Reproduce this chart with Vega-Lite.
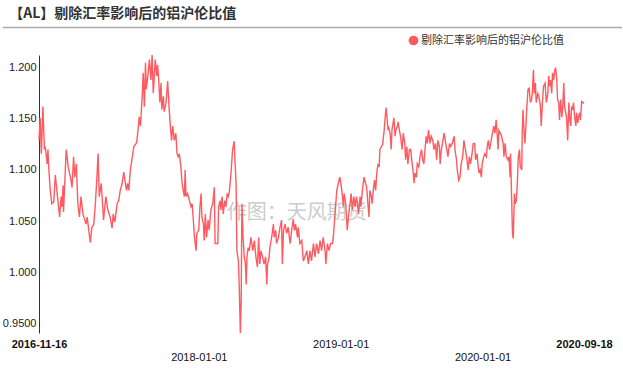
{
  "$schema": "https://vega.github.io/schema/vega-lite/v6.json",
  "background": "white",
  "padding": {"left": 2, "top": 6, "right": 2, "bottom": 0},
  "columns": 1,
  "align": "none",
  "spacing": 23,
  "config": {
    "view": {"stroke": null},
    "font": "Liberation Sans, Noto Sans CJK SC"
  },
  "concat": [
    {
      "title": {"text": "【AL】剔除汇率影响后的铝沪伦比值", "anchor": "start", "fontSize": 14, "fontWeight": "bold", "color": "#333333", "font": "Noto Sans CJK SC", "offset": 6, "dx": 7},
      "width": 545,
      "height": 1,
      "data": {"values": [{"level": 0, "from": -0.0661, "to": 1.0697}]},
      "mark": {"type": "rule", "color": "#aaaaaa", "strokeWidth": 1.5, "clip": false},
      "encoding": {
        "x": {"field": "from", "type": "quantitative", "scale": {"domain": [0, 1], "nice": false, "zero": false}, "axis": null},
        "x2": {"field": "to"},
        "y": {"field": "level", "type": "quantitative", "axis": null}
      }
    },
    {
      "width": 545,
      "height": 278,
      "layer": [
        {
          "data": {"values": [{"label": "作图：天风期货"}]},
          "mark": {"type": "text", "fontSize": 20, "color": "#cccccc", "font": "Noto Sans CJK SC"},
          "encoding": {
            "x": {"datum": {"year": 2018, "month": 9, "date": 10, "utc": true}, "type": "temporal"},
            "y": {"datum": 1.058, "type": "quantitative"},
            "text": {"field": "label"}
          }
        },
        {
          "data": {"values": [
{"date":"2016-11-16","ratio":1.129},{"date":"2016-11-19","ratio":1.151},{"date":"2016-11-22","ratio":1.116},{"date":"2016-11-26","ratio":1.162},{"date":"2016-11-30","ratio":1.120},{"date":"2016-12-02","ratio":1.123},{"date":"2016-12-07","ratio":1.106},{"date":"2016-12-09","ratio":1.120},{"date":"2016-12-11","ratio":1.103},{"date":"2016-12-15","ratio":1.080},{"date":"2016-12-19","ratio":1.067},{"date":"2016-12-24","ratio":1.069},{"date":"2016-12-28","ratio":1.095},
{"date":"2017-01-01","ratio":1.080},{"date":"2017-01-08","ratio":1.054},{"date":"2017-01-12","ratio":1.074},{"date":"2017-01-14","ratio":1.064},{"date":"2017-01-17","ratio":1.085},{"date":"2017-01-18","ratio":1.059},{"date":"2017-01-25","ratio":1.120},{"date":"2017-01-30","ratio":1.103},{"date":"2017-02-05","ratio":1.093},{"date":"2017-02-09","ratio":1.083},{"date":"2017-02-13","ratio":1.113},{"date":"2017-02-16","ratio":1.093},{"date":"2017-02-20","ratio":1.106},{"date":"2017-02-24","ratio":1.067},{"date":"2017-02-28","ratio":1.054},{"date":"2017-03-04","ratio":1.074},{"date":"2017-03-09","ratio":1.057},{"date":"2017-03-17","ratio":1.047},{"date":"2017-03-20","ratio":1.054},{"date":"2017-03-24","ratio":1.041},{"date":"2017-03-28","ratio":1.029},{"date":"2017-04-01","ratio":1.044},{"date":"2017-04-06","ratio":1.047},{"date":"2017-04-10","ratio":1.067},{"date":"2017-04-14","ratio":1.093},{"date":"2017-04-17","ratio":1.116},{"date":"2017-04-20","ratio":1.074},{"date":"2017-04-25","ratio":1.087},{"date":"2017-04-29","ratio":1.064},{"date":"2017-05-01","ratio":1.051},{"date":"2017-05-07","ratio":1.074},{"date":"2017-05-12","ratio":1.061},{"date":"2017-05-18","ratio":1.054},{"date":"2017-05-23","ratio":1.043},{"date":"2017-05-26","ratio":1.057},{"date":"2017-05-30","ratio":1.049},{"date":"2017-06-05","ratio":1.067},{"date":"2017-06-09","ratio":1.070},{"date":"2017-06-13","ratio":1.080},{"date":"2017-06-18","ratio":1.087},{"date":"2017-06-22","ratio":1.098},{"date":"2017-06-29","ratio":1.080},{"date":"2017-07-02","ratio":1.087},{"date":"2017-07-05","ratio":1.080},{"date":"2017-07-09","ratio":1.100},{"date":"2017-07-13","ratio":1.110},{"date":"2017-07-18","ratio":1.123},{"date":"2017-07-24","ratio":1.126},{"date":"2017-07-26","ratio":1.129},{"date":"2017-08-01","ratio":1.152},{"date":"2017-08-04","ratio":1.143},{"date":"2017-08-08","ratio":1.169},{"date":"2017-08-11","ratio":1.195},{"date":"2017-08-14","ratio":1.162},{"date":"2017-08-17","ratio":1.205},{"date":"2017-08-19","ratio":1.179},{"date":"2017-08-23","ratio":1.192},{"date":"2017-08-27","ratio":1.208},{"date":"2017-08-31","ratio":1.188},{"date":"2017-09-03","ratio":1.2125},{"date":"2017-09-06","ratio":1.175},{"date":"2017-09-09","ratio":1.195},{"date":"2017-09-11","ratio":1.208},{"date":"2017-09-15","ratio":1.192},{"date":"2017-09-17","ratio":1.203},{"date":"2017-09-20","ratio":1.188},{"date":"2017-09-23","ratio":1.166},{"date":"2017-09-26","ratio":1.185},{"date":"2017-09-28","ratio":1.159},{"date":"2017-10-02","ratio":1.172},{"date":"2017-10-04","ratio":1.157},{"date":"2017-10-09","ratio":1.166},{"date":"2017-10-13","ratio":1.187},{"date":"2017-10-17","ratio":1.159},{"date":"2017-10-20","ratio":1.143},{"date":"2017-10-23","ratio":1.129},{"date":"2017-10-26","ratio":1.143},{"date":"2017-10-30","ratio":1.129},{"date":"2017-11-03","ratio":1.136},{"date":"2017-11-06","ratio":1.116},{"date":"2017-11-09","ratio":1.113},{"date":"2017-11-12","ratio":1.116},{"date":"2017-11-16","ratio":1.103},{"date":"2017-11-19","ratio":1.087},{"date":"2017-11-22","ratio":1.080},{"date":"2017-11-25","ratio":1.074},{"date":"2017-11-27","ratio":1.100},{"date":"2017-11-29","ratio":1.074},{"date":"2017-12-03","ratio":1.077},{"date":"2017-12-08","ratio":1.070},{"date":"2017-12-12","ratio":1.064},{"date":"2017-12-15","ratio":1.067},{"date":"2017-12-18","ratio":1.051},{"date":"2017-12-21","ratio":1.034},{"date":"2017-12-25","ratio":1.021},{"date":"2017-12-27","ratio":1.038},
{"date":"2018-01-01","ratio":1.041},{"date":"2018-01-04","ratio":1.064},{"date":"2018-01-07","ratio":1.077},{"date":"2018-01-09","ratio":1.054},{"date":"2018-01-13","ratio":1.047},{"date":"2018-01-15","ratio":1.031},{"date":"2018-01-18","ratio":1.057},{"date":"2018-01-21","ratio":1.034},{"date":"2018-01-25","ratio":1.051},{"date":"2018-01-28","ratio":1.041},{"date":"2018-02-01","ratio":1.061},{"date":"2018-02-06","ratio":1.067},{"date":"2018-02-10","ratio":1.083},{"date":"2018-02-12","ratio":1.028},{"date":"2018-02-19","ratio":1.028},{"date":"2018-02-21","ratio":1.064},{"date":"2018-02-25","ratio":1.070},{"date":"2018-02-27","ratio":1.061},{"date":"2018-03-02","ratio":1.074},{"date":"2018-03-05","ratio":1.057},{"date":"2018-03-09","ratio":1.070},{"date":"2018-03-12","ratio":1.064},{"date":"2018-03-15","ratio":1.077},{"date":"2018-03-18","ratio":1.074},{"date":"2018-03-21","ratio":1.080},{"date":"2018-03-25","ratio":1.097},{"date":"2018-03-29","ratio":1.120},{"date":"2018-04-02","ratio":1.128},{"date":"2018-04-05","ratio":1.103},{"date":"2018-04-07","ratio":1.087},{"date":"2018-04-09","ratio":1.021},{"date":"2018-04-13","ratio":1.011},{"date":"2018-04-15","ratio":0.988},{"date":"2018-04-18","ratio":0.9405},{"date":"2018-04-20","ratio":0.969},{"date":"2018-04-22","ratio":1.067},{"date":"2018-04-25","ratio":1.034},{"date":"2018-04-28","ratio":1.015},{"date":"2018-05-01","ratio":1.008},{"date":"2018-05-03","ratio":0.988},{"date":"2018-05-05","ratio":1.015},{"date":"2018-05-08","ratio":1.024},{"date":"2018-05-11","ratio":1.021},{"date":"2018-05-15","ratio":1.034},{"date":"2018-05-20","ratio":1.021},{"date":"2018-05-24","ratio":1.031},{"date":"2018-05-28","ratio":1.015},{"date":"2018-06-01","ratio":1.005},{"date":"2018-06-04","ratio":1.034},{"date":"2018-06-07","ratio":1.008},{"date":"2018-06-10","ratio":1.021},{"date":"2018-06-14","ratio":1.015},{"date":"2018-06-18","ratio":1.008},{"date":"2018-06-22","ratio":1.015},{"date":"2018-06-25","ratio":0.988},{"date":"2018-06-27","ratio":1.008},{"date":"2018-07-01","ratio":1.015},{"date":"2018-07-03","ratio":1.024},{"date":"2018-07-06","ratio":1.031},{"date":"2018-07-09","ratio":1.038},{"date":"2018-07-12","ratio":1.047},{"date":"2018-07-14","ratio":1.034},{"date":"2018-07-18","ratio":1.041},{"date":"2018-07-20","ratio":1.028},{"date":"2018-07-25","ratio":1.034},{"date":"2018-07-29","ratio":1.044},{"date":"2018-08-02","ratio":1.051},{"date":"2018-08-04","ratio":1.008},{"date":"2018-08-07","ratio":1.041},{"date":"2018-08-11","ratio":1.047},{"date":"2018-08-15","ratio":1.038},{"date":"2018-08-19","ratio":1.044},{"date":"2018-08-24","ratio":1.028},{"date":"2018-08-28","ratio":1.041},{"date":"2018-09-01","ratio":1.052},{"date":"2018-09-04","ratio":1.041},{"date":"2018-09-07","ratio":1.047},{"date":"2018-09-12","ratio":1.034},{"date":"2018-09-14","ratio":1.044},{"date":"2018-09-18","ratio":1.028},{"date":"2018-09-23","ratio":1.031},{"date":"2018-09-27","ratio":1.011},{"date":"2018-10-01","ratio":1.015},{"date":"2018-10-06","ratio":1.021},{"date":"2018-10-10","ratio":1.008},{"date":"2018-10-14","ratio":1.021},{"date":"2018-10-18","ratio":1.011},{"date":"2018-10-23","ratio":1.028},{"date":"2018-10-27","ratio":1.015},{"date":"2018-10-31","ratio":1.028},{"date":"2018-11-05","ratio":1.018},{"date":"2018-11-09","ratio":1.031},{"date":"2018-11-13","ratio":1.021},{"date":"2018-11-17","ratio":1.034},{"date":"2018-11-22","ratio":1.021},{"date":"2018-11-24","ratio":1.008},{"date":"2018-11-28","ratio":1.028},{"date":"2018-12-02","ratio":1.021},{"date":"2018-12-06","ratio":1.028},{"date":"2018-12-11","ratio":1.028},{"date":"2018-12-13","ratio":1.034},{"date":"2018-12-17","ratio":1.054},{"date":"2018-12-22","ratio":1.080},{"date":"2018-12-26","ratio":1.087},{"date":"2018-12-30","ratio":1.093},
{"date":"2019-01-04","ratio":1.080},{"date":"2019-01-08","ratio":1.064},{"date":"2019-01-10","ratio":1.077},{"date":"2019-01-14","ratio":1.067},{"date":"2019-01-18","ratio":1.041},{"date":"2019-01-21","ratio":1.054},{"date":"2019-01-25","ratio":1.067},{"date":"2019-01-28","ratio":1.077},{"date":"2019-01-31","ratio":1.061},{"date":"2019-02-04","ratio":1.074},{"date":"2019-02-07","ratio":1.064},{"date":"2019-02-11","ratio":1.074},{"date":"2019-02-16","ratio":1.057},{"date":"2019-02-20","ratio":1.074},{"date":"2019-02-22","ratio":1.064},{"date":"2019-02-26","ratio":1.080},{"date":"2019-03-02","ratio":1.093},{"date":"2019-03-06","ratio":1.087},{"date":"2019-03-09","ratio":1.083},{"date":"2019-03-12","ratio":1.067},{"date":"2019-03-15","ratio":1.054},{"date":"2019-03-17","ratio":1.080},{"date":"2019-03-21","ratio":1.074},{"date":"2019-03-23","ratio":1.067},{"date":"2019-03-26","ratio":1.080},{"date":"2019-03-29","ratio":1.090},{"date":"2019-04-01","ratio":1.080},{"date":"2019-04-04","ratio":1.097},{"date":"2019-04-07","ratio":1.106},{"date":"2019-04-10","ratio":1.103},{"date":"2019-04-12","ratio":1.120},{"date":"2019-04-16","ratio":1.123},{"date":"2019-04-19","ratio":1.125},{"date":"2019-04-23","ratio":1.139},{"date":"2019-04-25","ratio":1.149},{"date":"2019-04-28","ratio":1.161},{"date":"2019-04-30","ratio":1.152},{"date":"2019-05-03","ratio":1.139},{"date":"2019-05-05","ratio":1.141},{"date":"2019-05-08","ratio":1.136},{"date":"2019-05-11","ratio":1.120},{"date":"2019-05-13","ratio":1.139},{"date":"2019-05-16","ratio":1.146},{"date":"2019-05-18","ratio":1.151},{"date":"2019-05-21","ratio":1.133},{"date":"2019-05-23","ratio":1.139},{"date":"2019-05-27","ratio":1.143},{"date":"2019-05-29","ratio":1.147},{"date":"2019-06-01","ratio":1.139},{"date":"2019-06-04","ratio":1.133},{"date":"2019-06-08","ratio":1.120},{"date":"2019-06-11","ratio":1.136},{"date":"2019-06-15","ratio":1.126},{"date":"2019-06-17","ratio":1.110},{"date":"2019-06-20","ratio":1.123},{"date":"2019-06-23","ratio":1.106},{"date":"2019-06-27","ratio":1.120},{"date":"2019-06-30","ratio":1.120},{"date":"2019-07-04","ratio":1.106},{"date":"2019-07-06","ratio":1.100},{"date":"2019-07-09","ratio":1.087},{"date":"2019-07-11","ratio":1.097},{"date":"2019-07-15","ratio":1.093},{"date":"2019-07-17","ratio":1.106},{"date":"2019-07-21","ratio":1.103},{"date":"2019-07-24","ratio":1.113},{"date":"2019-07-28","ratio":1.120},{"date":"2019-07-31","ratio":1.110},{"date":"2019-08-03","ratio":1.106},{"date":"2019-08-06","ratio":1.120},{"date":"2019-08-09","ratio":1.133},{"date":"2019-08-12","ratio":1.126},{"date":"2019-08-15","ratio":1.139},{"date":"2019-08-19","ratio":1.126},{"date":"2019-08-22","ratio":1.133},{"date":"2019-08-26","ratio":1.129},{"date":"2019-08-29","ratio":1.120},{"date":"2019-09-02","ratio":1.126},{"date":"2019-09-05","ratio":1.110},{"date":"2019-09-08","ratio":1.129},{"date":"2019-09-12","ratio":1.123},{"date":"2019-09-14","ratio":1.106},{"date":"2019-09-17","ratio":1.120},{"date":"2019-09-20","ratio":1.126},{"date":"2019-09-24","ratio":1.136},{"date":"2019-09-27","ratio":1.129},{"date":"2019-10-01","ratio":1.120},{"date":"2019-10-04","ratio":1.113},{"date":"2019-10-08","ratio":1.126},{"date":"2019-10-11","ratio":1.123},{"date":"2019-10-15","ratio":1.126},{"date":"2019-10-20","ratio":1.133},{"date":"2019-10-22","ratio":1.120},{"date":"2019-10-26","ratio":1.110},{"date":"2019-10-28","ratio":1.100},{"date":"2019-11-01","ratio":1.090},{"date":"2019-11-04","ratio":1.093},{"date":"2019-11-07","ratio":1.106},{"date":"2019-11-11","ratio":1.113},{"date":"2019-11-14","ratio":1.129},{"date":"2019-11-18","ratio":1.120},{"date":"2019-11-21","ratio":1.113},{"date":"2019-11-25","ratio":1.100},{"date":"2019-11-28","ratio":1.113},{"date":"2019-12-01","ratio":1.106},{"date":"2019-12-05","ratio":1.116},{"date":"2019-12-08","ratio":1.126},{"date":"2019-12-12","ratio":1.126},{"date":"2019-12-14","ratio":1.110},{"date":"2019-12-18","ratio":1.116},{"date":"2019-12-20","ratio":1.106},{"date":"2019-12-23","ratio":1.097},{"date":"2019-12-26","ratio":1.100},{"date":"2019-12-29","ratio":1.093},{"date":"2019-12-31","ratio":1.106},
{"date":"2020-01-04","ratio":1.113},{"date":"2020-01-07","ratio":1.116},{"date":"2020-01-11","ratio":1.113},{"date":"2020-01-13","ratio":1.123},{"date":"2020-01-16","ratio":1.129},{"date":"2020-01-19","ratio":1.120},{"date":"2020-01-22","ratio":1.126},{"date":"2020-01-25","ratio":1.133},{"date":"2020-01-28","ratio":1.139},{"date":"2020-01-30","ratio":1.143},{"date":"2020-02-02","ratio":1.136},{"date":"2020-02-05","ratio":1.149},{"date":"2020-02-08","ratio":1.133},{"date":"2020-02-10","ratio":1.120},{"date":"2020-02-12","ratio":1.139},{"date":"2020-02-16","ratio":1.136},{"date":"2020-02-19","ratio":1.133},{"date":"2020-02-23","ratio":1.126},{"date":"2020-02-25","ratio":1.113},{"date":"2020-02-28","ratio":1.126},{"date":"2020-03-02","ratio":1.113},{"date":"2020-03-06","ratio":1.110},{"date":"2020-03-09","ratio":1.113},{"date":"2020-03-12","ratio":1.093},{"date":"2020-03-13","ratio":1.116},{"date":"2020-03-16","ratio":1.070},{"date":"2020-03-18","ratio":1.038},{"date":"2020-03-20","ratio":1.033},{"date":"2020-03-23","ratio":1.077},{"date":"2020-03-25","ratio":1.067},{"date":"2020-03-28","ratio":1.070},{"date":"2020-03-30","ratio":1.083},{"date":"2020-04-02","ratio":1.113},{"date":"2020-04-05","ratio":1.120},{"date":"2020-04-07","ratio":1.103},{"date":"2020-04-11","ratio":1.100},{"date":"2020-04-12","ratio":1.136},{"date":"2020-04-14","ratio":1.159},{"date":"2020-04-17","ratio":1.136},{"date":"2020-04-19","ratio":1.126},{"date":"2020-04-22","ratio":1.146},{"date":"2020-04-24","ratio":1.162},{"date":"2020-04-27","ratio":1.179},{"date":"2020-04-30","ratio":1.180},{"date":"2020-05-03","ratio":1.166},{"date":"2020-05-06","ratio":1.169},{"date":"2020-05-08","ratio":1.175},{"date":"2020-05-11","ratio":1.198},{"date":"2020-05-13","ratio":1.175},{"date":"2020-05-16","ratio":1.185},{"date":"2020-05-18","ratio":1.166},{"date":"2020-05-22","ratio":1.175},{"date":"2020-05-25","ratio":1.172},{"date":"2020-05-29","ratio":1.162},{"date":"2020-05-31","ratio":1.143},{"date":"2020-06-03","ratio":1.166},{"date":"2020-06-06","ratio":1.182},{"date":"2020-06-10","ratio":1.185},{"date":"2020-06-13","ratio":1.166},{"date":"2020-06-17","ratio":1.175},{"date":"2020-06-19","ratio":1.192},{"date":"2020-06-22","ratio":1.182},{"date":"2020-06-24","ratio":1.188},{"date":"2020-06-27","ratio":1.175},{"date":"2020-06-29","ratio":1.195},{"date":"2020-07-02","ratio":1.188},{"date":"2020-07-05","ratio":1.198},{"date":"2020-07-07","ratio":1.200},{"date":"2020-07-10","ratio":1.188},{"date":"2020-07-12","ratio":1.169},{"date":"2020-07-15","ratio":1.166},{"date":"2020-07-17","ratio":1.149},{"date":"2020-07-20","ratio":1.169},{"date":"2020-07-23","ratio":1.152},{"date":"2020-07-25","ratio":1.159},{"date":"2020-07-28","ratio":1.185},{"date":"2020-07-30","ratio":1.162},{"date":"2020-08-02","ratio":1.156},{"date":"2020-08-04","ratio":1.152},{"date":"2020-08-07","ratio":1.129},{"date":"2020-08-10","ratio":1.166},{"date":"2020-08-12","ratio":1.152},{"date":"2020-08-15","ratio":1.143},{"date":"2020-08-17","ratio":1.162},{"date":"2020-08-20","ratio":1.159},{"date":"2020-08-22","ratio":1.166},{"date":"2020-08-25","ratio":1.152},{"date":"2020-08-28","ratio":1.143},{"date":"2020-08-30","ratio":1.156},{"date":"2020-09-02","ratio":1.146},{"date":"2020-09-04","ratio":1.152},{"date":"2020-09-07","ratio":1.156},{"date":"2020-09-09","ratio":1.149},{"date":"2020-09-12","ratio":1.167},{"date":"2020-09-18","ratio":1.165}
          ]},
          "mark": {"type": "line", "strokeWidth": 1.4},
          "encoding": {
            "x": {
              "field": "date", "type": "temporal", "title": null,
              "scale": {"type": "utc", "nice": false, "domain": [{"year": 2016, "month": 11, "date": 16, "utc": true}, {"year": 2020, "month": 9, "date": 18, "utc": true}]},
              "axis": {
                "values": [{"year": 2016, "month": 11, "date": 16, "utc": true}, {"year": 2018, "month": 1, "date": 1, "utc": true}, {"year": 2019, "month": 1, "date": 1, "utc": true}, {"year": 2020, "month": 1, "date": 1, "utc": true}, {"year": 2020, "month": 9, "date": 18, "utc": true}],
                "format": "%Y-%m-%d",
                "domain": false,
                "ticks": false,
                "tickSize": 0,
                "labelPadding": 5,
                "labelFlush": false,
                "labelOverlap": false,
                "labelFontSize": 11,
                "labelColor": "#111111",
                "labelLineHeight": 13,
                "labelFontWeight": {"condition": {"test": "datum.value < utc(2017,0,1) || datum.value > utc(2020,5,1)", "value": "bold"}, "value": "normal"},
                "labelExpr": "(utcyear(datum.value) == 2018 || (utcyear(datum.value) == 2020 && utcmonth(datum.value) == 0)) ? ['', datum.label] : datum.label",
                "gridColor": "#e6e6e6",
                "gridOpacity": {"condition": {"test": "datum.value < utc(2017,0,1) || datum.value > utc(2020,5,1)", "value": 0}, "value": 1}
              }
            },
            "y": {
              "field": "ratio", "type": "quantitative", "title": null,
              "scale": {"domain": [0.9405, 1.2125], "nice": false, "zero": false},
              "axis": {
                "values": [0.95, 1.0, 1.05, 1.1, 1.15, 1.2],
                "format": ".4r",
                "domainColor": "#333333",
                "ticks": false,
                "tickSize": 0,
                "labelPadding": 3,
                "labelFontSize": 11,
                "labelColor": "#222222",
                "gridColor": "#e6e6e6"
              }
            },
            "color": {
              "datum": "剔除汇率影响后的铝沪伦比值",
              "scale": {"range": ["#ff5a60"]},
              "legend": {
                "title": null,
                "orient": "none",
                "legendX": 369,
                "legendY": 8,
                "symbolType": "circle",
                "symbolSize": 95,
                "symbolFillColor": "#ff5a60",
                "symbolStrokeWidth": 0,
                "labelFontSize": 11,
                "labelColor": "#333333",
                "labelFont": "Noto Sans CJK SC",
                "labelOffset": 2,
                "padding": 0
              }
            }
          }
        }
      ]
    }
  ]
}
